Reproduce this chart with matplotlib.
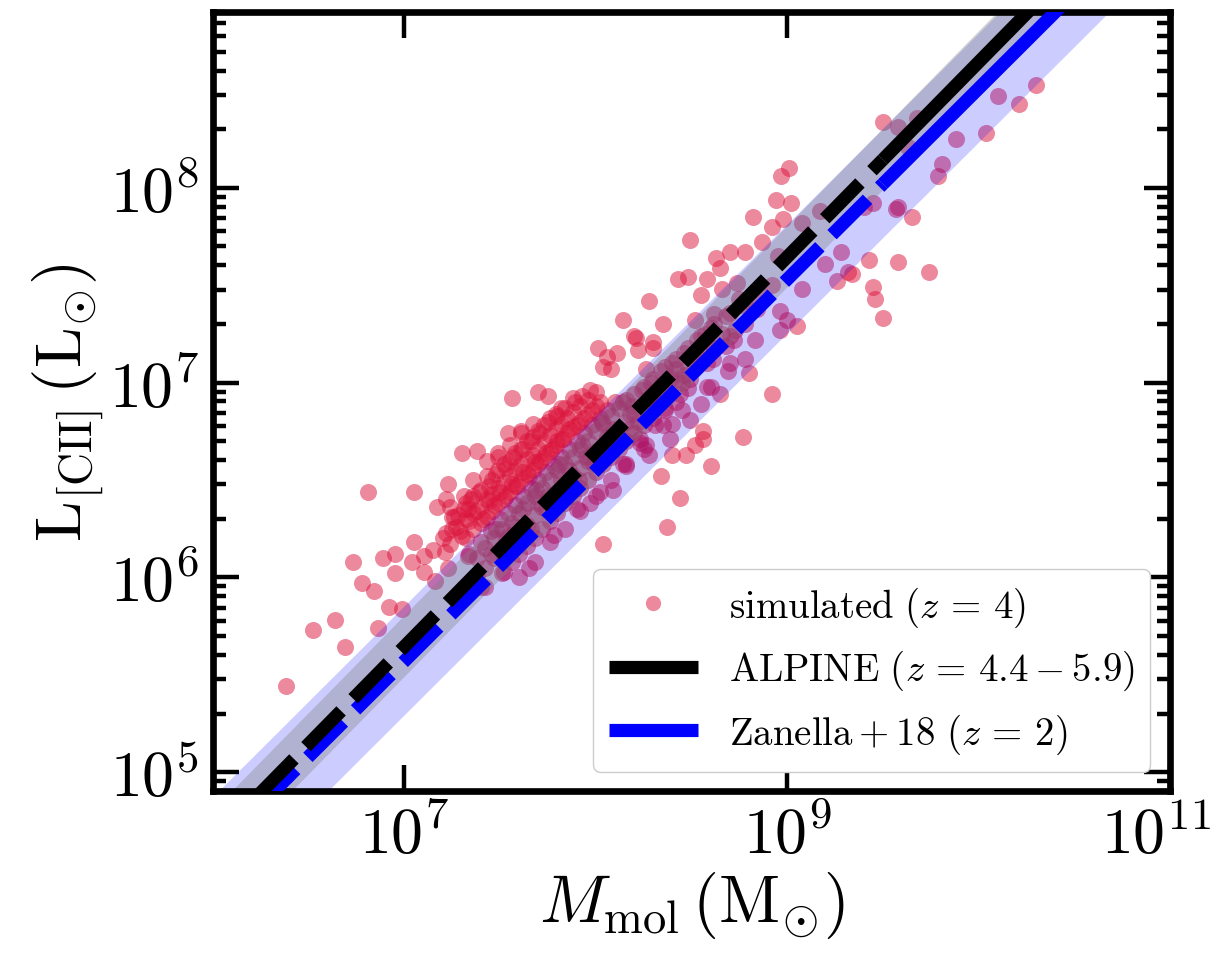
import numpy as np
import matplotlib
matplotlib.use("Agg")
import matplotlib.pyplot as plt
from matplotlib.ticker import FixedLocator, NullLocator, FuncFormatter
from matplotlib.lines import Line2D
from matplotlib.transforms import ScaledTranslation

plt.rcParams['mathtext.fontset'] = 'cm'
plt.rcParams['font.family'] = 'serif'

# ---------------- simulated galaxies (log10 M_mol, log10 L_CII) ----------------
# sparse points, low-mass end
low_logm = [6.38, 6.52, 6.64, 6.69, 6.86, 6.92, 6.99, 6.78, 6.84, 6.73, 6.81, 7.05, 6.89, 6.95,
            6.95, 7.04, 7.05, 7.10, 7.10, 7.16, 7.15, 7.21, 7.23, 7.22, 7.17, 7.23, 7.24, 7.25,
            7.31, 7.29, 7.33, 7.30, 7.38, 7.49, 7.54, 7.61, 7.56, 7.70, 7.75, 7.40, 7.33, 7.52,
            7.20, 7.25, 7.28, 7.22]
low_logl = [5.44, 5.73, 5.78, 5.64, 5.74, 5.85, 5.84, 5.97, 5.93, 6.08, 6.44, 6.44, 6.10, 6.12,
            6.02, 6.08, 6.18, 6.11, 6.03, 5.98, 6.14, 6.13, 6.05, 6.23, 6.36, 6.48, 6.36, 6.31,
            6.42, 6.24, 6.35, 6.64, 6.65, 6.64, 6.74, 6.75, 6.92, 6.95, 6.93, 5.95, 6.11, 6.03,
            6.20, 6.25, 6.32, 6.40]

# dense upper cloud (above the relations)
cloud_logm = [7.32, 7.32, 7.32, 7.36, 7.36, 7.36, 7.36, 7.40, 7.40, 7.40, 7.43, 7.43, 7.43, 7.43,
              7.46, 7.46, 7.46, 7.49, 7.49, 7.49, 7.49, 7.52, 7.52, 7.52, 7.55, 7.55, 7.55, 7.55,
              7.58, 7.58, 7.58, 7.61, 7.61, 7.61, 7.61, 7.64, 7.64, 7.64, 7.67, 7.67, 7.67, 7.67,
              7.70, 7.70, 7.70, 7.73, 7.73, 7.73, 7.76, 7.76, 7.76, 7.79, 7.79, 7.79, 7.82, 7.82,
              7.82, 7.85, 7.85, 7.88, 7.88, 7.88, 7.92, 7.92, 7.96, 7.96, 8.00, 8.00,
              7.24, 7.27, 7.30, 7.34, 7.38, 7.41, 7.44, 7.47, 7.50, 7.53, 7.56, 7.59, 7.62, 7.65,
              7.68, 7.71, 7.74, 7.77, 7.80, 7.83, 7.86, 7.90, 7.94, 7.98, 8.02,
              7.26, 7.31, 7.35, 7.39, 7.44, 7.48, 7.53, 7.57, 7.62, 7.66, 7.71, 7.75, 7.80, 7.84,
              7.89, 7.93, 7.97]
cloud_logl = [6.20, 6.30, 6.38, 6.25, 6.33, 6.42, 6.50, 6.28, 6.36, 6.45, 6.31, 6.40, 6.52, 6.60,
              6.34, 6.43, 6.50, 6.38, 6.46, 6.55, 6.62, 6.40, 6.49, 6.58, 6.44, 6.52, 6.60, 6.68,
              6.47, 6.55, 6.64, 6.50, 6.58, 6.66, 6.74, 6.53, 6.61, 6.70, 6.55, 6.63, 6.72, 6.79,
              6.58, 6.66, 6.75, 6.62, 6.70, 6.78, 6.65, 6.73, 6.82, 6.68, 6.76, 6.84, 6.71, 6.79,
              6.87, 6.74, 6.82, 6.77, 6.85, 6.92, 6.80, 6.88, 6.84, 6.91, 6.88, 6.95,
              6.17, 6.26, 6.21, 6.29, 6.34, 6.30, 6.39, 6.37, 6.44, 6.42, 6.48, 6.47, 6.54, 6.52,
              6.59, 6.60, 6.64, 6.66, 6.70, 6.71, 6.76, 6.78, 6.82, 6.86, 6.90,
              6.31, 6.35, 6.40, 6.44, 6.47, 6.53, 6.56, 6.62, 6.66, 6.70, 6.74, 6.80, 6.83, 6.87,
              6.90, 6.93, 6.96]

# points along the relations (inside the shaded bands)
core_logm = [7.38, 7.38, 7.42, 7.42, 7.42, 7.47, 7.47, 7.51, 7.51, 7.51, 7.56, 7.56, 7.56,
             7.60, 7.60, 7.60, 7.60, 7.64, 7.64, 7.64, 7.68, 7.68, 7.68, 7.68, 7.72, 7.72, 7.72,
             7.76, 7.76, 7.76, 7.76, 7.80, 7.80, 7.80, 7.84, 7.84, 7.84, 7.84, 7.88, 7.88, 7.88,
             7.92, 7.92, 7.92, 7.92, 7.96, 7.96, 7.96, 8.00, 8.00, 8.00, 8.00, 8.04, 8.04, 8.04,
             8.08, 8.08, 8.08, 8.08, 8.12, 8.12, 8.12, 8.16, 8.16, 8.16, 8.16, 8.20, 8.20, 8.20,
             8.25, 8.25, 8.25, 8.25, 8.30, 8.30, 8.30, 8.36, 8.36, 8.36, 8.42, 8.42, 8.42,
             8.48, 8.48, 8.48, 8.55, 8.55, 8.62, 8.62, 8.70, 8.70, 8.78, 8.78,
             7.34, 7.40, 7.45, 7.50, 7.54, 7.58, 7.62, 7.66, 7.70, 7.74, 7.78, 7.82, 7.86, 7.90,
             7.94, 7.98, 8.02, 8.06, 8.10,
             7.45, 7.53, 7.58, 7.63, 7.70, 7.74, 7.82, 7.87, 7.95, 7.99, 8.06, 8.10, 8.18, 8.22,
             8.28, 8.33, 8.39, 8.45, 8.51, 8.58, 8.66, 8.72, 8.84, 8.92,
             7.65, 7.78, 7.90, 8.02, 8.14, 8.26, 8.35, 8.45, 8.58, 8.70,
             7.48, 7.55, 7.62, 7.69, 7.75, 7.81, 7.86, 7.93, 7.97, 8.03, 8.09, 8.14, 8.19, 8.24,
             8.29, 8.34, 8.40, 8.46, 8.53, 8.60, 8.68, 8.76,
             7.52, 7.66, 7.79, 7.91, 8.05, 8.18, 8.32, 8.46, 8.62]
core_logl = [6.10, 6.00, 6.15, 6.05, 5.95, 6.20, 6.10, 6.25, 6.15, 6.02, 6.28, 6.18, 6.08,
             6.33, 6.22, 6.12, 6.00, 6.38, 6.27, 6.16, 6.42, 6.32, 6.20, 6.08, 6.46, 6.36, 6.25,
             6.50, 6.40, 6.29, 6.18, 6.55, 6.44, 6.33, 6.58, 6.48, 6.38, 6.25, 6.62, 6.52, 6.42,
             6.66, 6.56, 6.46, 6.34, 6.70, 6.60, 6.50, 6.75, 6.65, 6.54, 6.42, 6.79, 6.68, 6.58,
             6.83, 6.72, 6.62, 6.50, 6.87, 6.76, 6.66, 6.91, 6.80, 6.70, 6.58, 6.94, 6.84, 6.74,
             6.98, 6.88, 6.78, 6.66, 7.02, 6.92, 6.82, 7.08, 6.97, 6.87, 7.12, 7.02, 6.90,
             7.18, 7.08, 6.97, 7.24, 7.12, 7.30, 7.18, 7.36, 7.24, 7.42, 7.30,
             6.12, 6.18, 6.24, 6.30, 6.33, 6.37, 6.42, 6.46, 6.50, 6.54, 6.57, 6.62, 6.66, 6.70,
             6.74, 6.78, 6.82, 6.86, 6.90,
             6.12, 6.20, 6.26, 6.24, 6.38, 6.35, 6.50, 6.45, 6.62, 6.58, 6.72, 6.69, 6.84, 6.80,
             6.92, 6.90, 7.02, 7.00, 7.12, 7.10, 7.25, 7.22, 7.38, 7.50,
             6.05, 6.22, 6.35, 6.44, 6.58, 6.68, 6.78, 6.86, 6.98, 7.10,
             6.25, 6.22, 6.35, 6.45, 6.42, 6.58, 6.55, 6.68, 6.62, 6.80, 6.76, 6.90, 6.88, 6.96,
             7.00, 7.06, 7.10, 7.15, 7.22, 7.28, 7.34, 7.40,
             6.10, 6.25, 6.38, 6.50, 6.63, 6.76, 6.90, 7.04, 7.18]

# intermediate masses, scattered
mid_logm = [8.14, 8.28, 8.43, 8.48, 8.35, 8.30, 8.21, 8.22, 8.01, 8.06, 8.11, 8.04, 8.08, 8.20,
            8.49, 8.63, 8.70, 8.78, 8.87, 8.95, 8.58, 8.55, 8.65, 8.66, 8.74,
            9.01, 8.97, 8.94, 9.02, 8.82, 8.92, 8.98, 9.08, 9.17,
            9.20, 9.28, 9.26, 9.32, 8.96, 9.00, 9.05, 8.96, 9.08, 8.92, 8.80, 8.77, 8.56, 8.56,
            8.60, 8.40, 8.34, 8.44, 8.37, 8.04,
            8.52, 8.57, 8.62, 8.68, 8.73, 8.78, 8.83, 8.61, 8.69, 8.54, 8.75, 8.86, 8.49, 8.65,
            8.60, 8.55, 8.30, 8.26, 8.34, 8.42, 8.28, 8.36, 8.44, 8.49, 8.31, 8.23, 8.39, 8.47,
            8.28, 8.52, 8.09, 7.97, 8.16, 8.23, 8.40]
mid_logl = [7.32, 7.42, 7.53, 7.54, 7.30, 7.18, 7.23, 7.17, 7.18, 7.13, 7.15, 7.08, 7.07, 7.24,
            7.73, 7.64, 7.67, 7.67, 7.72, 7.65, 7.53, 7.45, 7.59, 7.48, 7.51,
            8.10, 8.06, 7.94, 7.92, 7.85, 7.80, 7.84, 7.82, 7.88,
            7.61, 7.67, 7.52, 7.57, 7.37, 7.32, 7.29, 7.27, 7.48, 6.94, 7.05, 6.72, 6.75, 6.71,
            6.57, 6.63, 6.52, 6.41, 6.26, 6.17,
            7.32, 7.25, 7.35, 7.19, 7.27, 7.12, 7.22, 7.12, 7.06, 7.16, 7.43, 7.45, 7.02, 6.94,
            6.98, 6.89, 7.21, 7.07, 6.99, 7.07, 6.91, 6.86, 6.94, 6.81, 6.78, 6.71, 6.71, 6.63,
            6.63, 6.68, 6.45, 6.38, 6.57, 6.69, 6.79]

# high-mass end
high_logm = [9.50, 9.58, 9.68, 9.63, 10.10, 10.21, 10.30, 9.88, 10.04, 9.81, 9.79, 9.58, 9.65,
             9.45, 9.40, 9.43, 9.58, 9.74, 9.34, 9.45, 9.46, 9.50, 9.57]
high_logl = [8.34, 8.31, 8.36, 8.21, 8.47, 8.43, 8.53, 8.25, 8.28, 8.12, 8.06, 7.90, 7.85,
             7.92, 7.90, 7.63, 7.62, 7.57, 7.56, 7.49, 7.43, 7.33, 7.89]

# ---------------- observed relations: log L = slope * log M + intercept ----------------
alpine_slope, alpine_icpt = 1.00, -1.355
alpine_band = 0.157
zanella_slope, zanella_icpt = 0.98, -1.29
zanella_scatter = 0.28
logm_solid_min = 9.5          # relations drawn solid above this mass, dashed below
logm_range = (5.5, 11.5)

x_ticks = [1e7, 1e9, 1e11]


def main():
    sim_logm = np.concatenate([low_logm, cloud_logm, core_logm, mid_logm, high_logm])
    sim_logl = np.concatenate([low_logl, cloud_logl, core_logl, mid_logl, high_logl])

    fig = plt.figure(figsize=(12.22, 9.54), dpi=100)
    ax = fig.add_axes([0.1743, 0.1698, 0.7831, 0.8166])

    ax.scatter(10**sim_logm, 10**sim_logl, s=150, color='crimson', alpha=0.5,
               linewidths=0, zorder=1)

    lm = np.array(logm_range)
    ax.fill_between(10**lm, 10**(zanella_slope*lm + zanella_icpt - zanella_scatter),
                    10**(zanella_slope*lm + zanella_icpt + zanella_scatter),
                    color='blue', alpha=0.2, linewidth=0, zorder=2)
    ax.fill_between(10**lm, 10**(alpine_slope*lm + alpine_icpt - alpine_band),
                    10**(alpine_slope*lm + alpine_icpt + alpine_band),
                    color='gray', alpha=0.35, linewidth=0, zorder=2)

    lm_dash = np.array([logm_range[0], logm_solid_min])
    lm_solid = np.array([logm_solid_min, logm_range[1]])
    for slope, icpt, col in [(zanella_slope, zanella_icpt, 'blue'),
                             (alpine_slope, alpine_icpt, 'black')]:
        ax.plot(10**lm_dash, 10**(slope*lm_dash + icpt), color=col, lw=9.5,
                dashes=(3.8, 1.3), solid_capstyle='butt', dash_capstyle='butt', zorder=3)
        ax.plot(10**lm_solid, 10**(slope*lm_solid + icpt), color=col, lw=9.5,
                solid_capstyle='butt', zorder=3)

    ax.set_xscale('log')
    ax.set_yscale('log')
    ax.set_xlim(1e6, 1e11)
    ax.set_ylim(8e4, 8e8)

    ax.xaxis.set_major_locator(FixedLocator(x_ticks))
    ax.xaxis.set_minor_locator(NullLocator())
    fmt = FuncFormatter(lambda v, p: r'$10^{%d}$' % round(np.log10(v)))
    ax.xaxis.set_major_formatter(fmt)
    ax.yaxis.set_major_formatter(fmt)

    ax.tick_params(which='both', direction='in', top=True, right=True, width=3.2,
                   labelsize=46, pad=10)
    ax.tick_params(which='major', length=19)
    ax.tick_params(which='minor', length=9.5)
    for sp in ax.spines.values():
        sp.set_linewidth(4.8)

    # keep the last x tick label inside the figure
    last = ax.xaxis.get_major_ticks(len(x_ticks))[-1].label1
    last.set_transform(last.get_transform() + ScaledTranslation(-10/72, 0, fig.dpi_scale_trans))

    ax.set_xlabel(r'$M_\mathrm{mol}\,(\mathrm{M}_{\odot})$', fontsize=48, labelpad=2)
    ax.set_ylabel(r'$\mathrm{L}_\mathrm{[CII]}\,(\mathrm{L}_{\odot})$', fontsize=47, labelpad=2)

    handles = [
        Line2D([], [], ls='none', marker='o', ms=11, color='crimson', alpha=0.5, mew=0),
        Line2D([], [], color='black', lw=9.5, solid_capstyle='butt'),
        Line2D([], [], color='blue', lw=9.5, solid_capstyle='butt'),
    ]
    labels = [r'$\mathrm{simulated}\ (z\,=\,4)$',
              r'$\mathrm{ALPINE}\ (z\,=\,4.4-5.9)$',
              r'$\mathrm{Zanella}+18\ (z\,=\,2)$']
    ax.legend(handles, labels, loc='lower right', fontsize=28, handlelength=2.3,
              framealpha=1.0, edgecolor='0.8', fancybox=True)

    fig.savefig('out.png', dpi=100)


if __name__ == "__main__":
    main()
